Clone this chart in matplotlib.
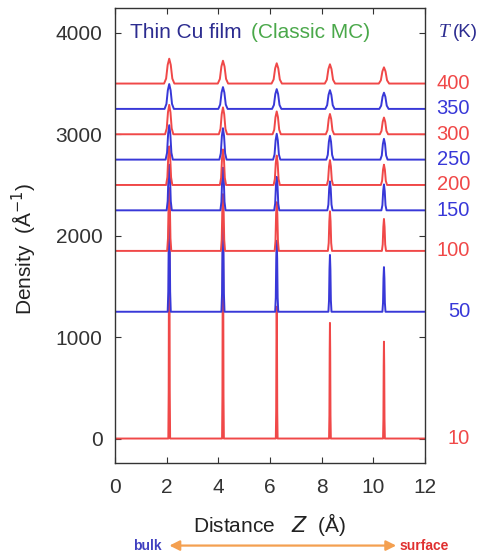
import matplotlib.pyplot as plt
from matplotlib.patches import FancyArrowPatch

plt.rcParams['font.family'] = ['Liberation Sans', 'DejaVu Sans']

# temperatures (K), vertical offsets of each profile, layer positions (A)
temps = [10, 50, 100, 150, 200, 250, 300, 350, 400]
offsets = [0, 1250, 1850, 2250, 2500, 2750, 3000, 3250, 3500]
peak_z = [2.10, 4.18, 6.26, 8.32, 10.41]

# peak heights above baseline, per temperature
heights = {
    10: [2300, 2100, 1300, 1140, 955],
    50: [1000, 900, 700, 560, 440],
    100: [620, 560, 480, 390, 315],
    150: [450, 420, 330, 285, 255],
    200: [380, 350, 290, 245, 200],
    250: [340, 310, 255, 235, 205],
    300: [290, 265, 225, 200, 165],
    350: [245, 215, 195, 185, 160],
    400: [245, 225, 200, 190, 160],
}
# half width of each peak at its base (A)
half_widths = [0.035, 0.06, 0.08, 0.10, 0.12, 0.14, 0.16, 0.18, 0.20]

red = '#f04848'
blue = '#3838d8'
shape_u = [-1, -0.6, -0.3, 0, 0.3, 0.6, 1]
shape_h = [0, 0.2, 0.75, 1, 0.75, 0.2, 0]


def profile(T, off, w):
    xs, ys = [0.0], [off]
    for c, h in zip(peak_z, heights[T]):
        for u, f in zip(shape_u, shape_h):
            xs.append(c + u * w)
            ys.append(off + f * h)
    xs.append(12.0)
    ys.append(off)
    return xs, ys


fig = plt.figure(figsize=(4.83, 5.55), dpi=100)
ax = fig.add_axes([0.238, 0.166, 0.642, 0.8196])

for i, (T, off, w) in enumerate(zip(temps, offsets, half_widths)):
    col = red if i % 2 == 0 else blue
    xs, ys = profile(T, off, w)
    ax.plot(xs, ys, color=col, lw=1.4, solid_joinstyle='round')
    ax.text(1.145, off, str(T), transform=ax.get_yaxis_transform(),
            ha='right', va='center', color=col, fontsize=14.5)

ax.set_xlim(0, 12)
ax.set_ylim(-240, 4245)
ax.set_xticks([0, 2, 4, 6, 8, 10, 12])
ax.set_yticks([0, 1000, 2000, 3000, 4000])
ax.tick_params(direction='in', top=True, right=True, length=4,
               labelsize=15, colors='#333333')
ax.tick_params(axis='x', pad=11)
ax.tick_params(axis='y', pad=9)
for s in ax.spines.values():
    s.set_color('#333333')
    s.set_linewidth(1.0)

ax.set_xlabel('Distance   $Z$  (Å)', fontsize=15, color='#222222')
ax.xaxis.set_label_coords(0.5, -0.105)
ax.set_ylabel('Density  (Å$^{-1}$)', fontsize=15, color='#222222')
ax.yaxis.set_label_coords(-0.245, 0.47)

ax.text(0.048, 0.947, 'Thin Cu film', transform=ax.transAxes,
        color='#2c2c90', fontsize=15, va='center')
ax.text(0.44, 0.947, '(Classic MC)', transform=ax.transAxes,
        color='#4aa84a', fontsize=15, va='center')
fig.text(0.908, 0.942, 'T', family='Liberation Serif', style='italic',
         color='#2c2c90', fontsize=14, va='center')
fig.text(0.937, 0.942, '(K)', color='#2c2c90', fontsize=13.5, va='center')

# bulk <-> surface arrow below the x label
arr = FancyArrowPatch((0.345, 0.017), (0.826, 0.017), transform=fig.transFigure,
                      arrowstyle='<|-|>,head_length=6,head_width=3',
                      color='#f4a050', lw=1.6)
fig.patches.append(arr)
fig.text(0.275, 0.017, 'bulk', color='#4040c0', fontsize=10,
         fontweight='bold', va='center')
fig.text(0.828, 0.017, 'surface', color='#e03030', fontsize=10,
         fontweight='bold', va='center')

plt.savefig('out.png', dpi=100)
